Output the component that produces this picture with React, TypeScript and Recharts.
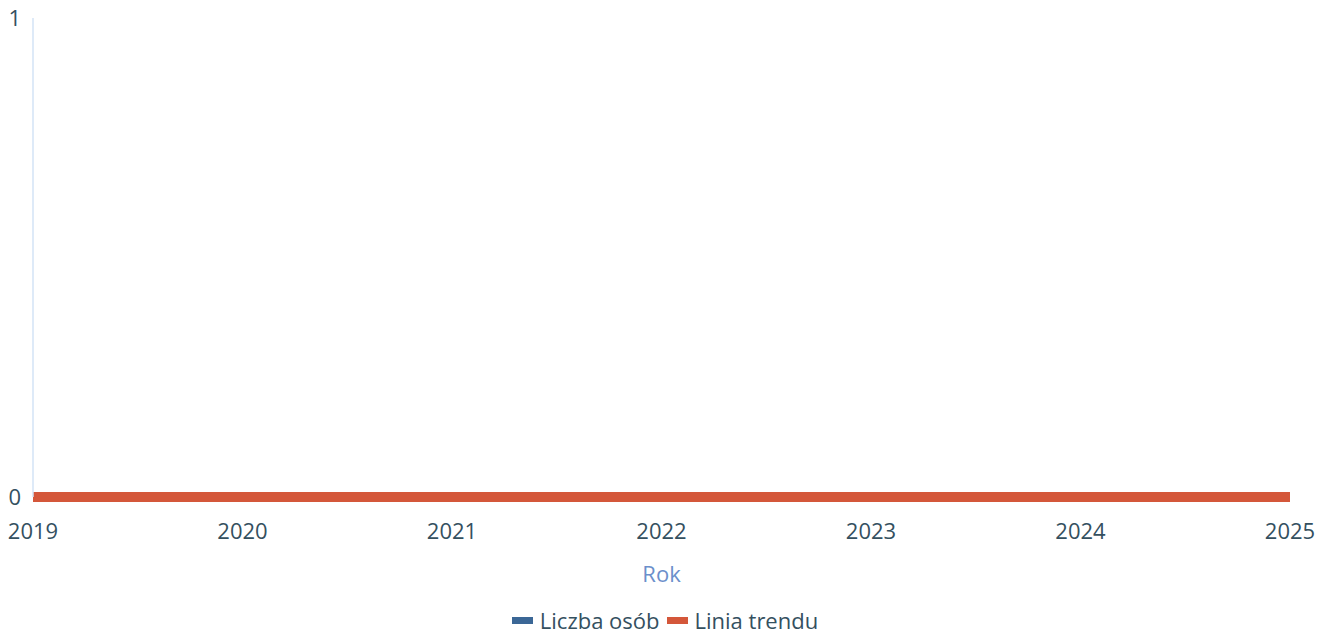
import React from 'react';
import { LineChart, Line, XAxis, YAxis, Legend } from 'recharts';

const years = ['2019', '2020', '2021', '2022', '2023', '2024', '2025'];
const liczbaOsob = [0, 0, 0, 0, 0, 0, 0];
const liniaTrendu = [0, 0, 0, 0, 0, 0, 0];
const yTicks = [0, 1];

const data = years.map((year, i) => ({
    year,
    liczba: liczbaOsob[i],
    trend: liniaTrendu[i],
}));

const TEXT = '#34505f';
const BLUE = '#3b6796';
const ORANGE = '#d4573a';
const FONT = '"Open Sans", sans-serif';

const legendItems = [
    { name: 'Liczba osób', color: BLUE },
    { name: 'Linia trendu', color: ORANGE },
];

const LegendContent = () => (
    <div style={styles.legend}>
        {legendItems.map((item) => (
            <span key={item.name} style={styles.legendItem}>
                <span style={{ ...styles.legendIcon, background: item.color }} />
                {item.name}
            </span>
        ))}
    </div>
);

export default function App() {
    return (
        <div style={styles.page}>
            <LineChart
                width={1330}
                height={638}
                data={data}
                margin={{ top: 18, right: 40, bottom: 0, left: 0 }}
            >
                <XAxis
                    dataKey="year"
                    axisLine={false}
                    tickLine={false}
                    tickMargin={20}
                    height={105}
                    interval={0}
                    tick={{ fill: TEXT, fontSize: 22, fontFamily: FONT }}
                    label={{ value: 'Rok', position: 'insideBottom', offset: 20, fill: '#6b8fcb', fontSize: 22, fontFamily: FONT }}
                />
                <YAxis
                    domain={[0, 1]}
                    ticks={yTicks}
                    width={33}
                    axisLine={{ stroke: '#d3e3f6', strokeWidth: 1.5 }}
                    tickLine={false}
                    tickMargin={6}
                    tick={{ fill: TEXT, fontSize: 22, fontFamily: FONT }}
                />
                <Legend verticalAlign="bottom" content={<LegendContent />} />
                <Line dataKey="liczba" name="Liczba osób" stroke={BLUE} strokeWidth={3} dot={false} isAnimationActive={false} />
                <Line dataKey="trend" name="Linia trendu" stroke={ORANGE} strokeWidth={10} dot={false} isAnimationActive={false} />
            </LineChart>
        </div>
    );
}

const styles = {
    page: { position: 'absolute' as const, left: 0, top: 0, width: 1330, height: 638, background: '#fff' },
    legend: {
        display: 'flex',
        justifyContent: 'center',
        alignItems: 'center',
        gap: 7,
        paddingLeft: 40,
        fontFamily: FONT,
        fontSize: 22,
        color: TEXT,
        height: 36,
    },
    legendItem: { display: 'inline-flex', alignItems: 'center', gap: 7 },
    legendIcon: { display: 'inline-block', width: 21, height: 7 },
};
